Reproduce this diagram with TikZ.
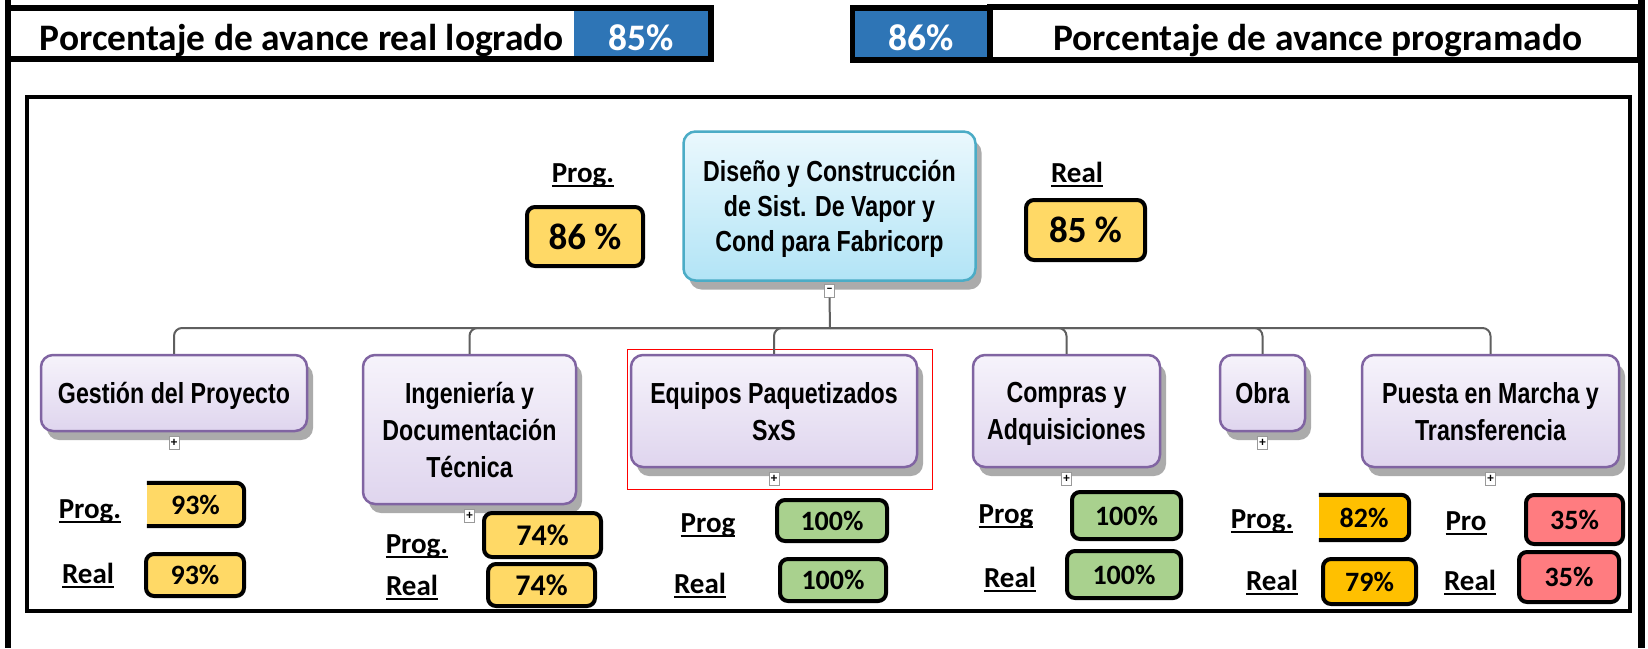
\documentclass[tikz,border=0pt]{standalone}
\usepackage{fontspec}
\setmainfont{Carlito}
\newfontfamily\narrowfont{Liberation Sans}[FakeStretch=0.8]
\usetikzlibrary{shadows}
\definecolor{pyellow}{HTML}{FFD966}
\definecolor{pgreen}{HTML}{A9D18E}
\definecolor{porange}{HTML}{FFC000}
\definecolor{psalmon}{HTML}{FF7C80}
\definecolor{hblue}{HTML}{2E75B6}
\definecolor{wbsborder}{HTML}{8064A2}
\definecolor{wbstop}{HTML}{F6F3FB}
\definecolor{wbsbot}{HTML}{DFD5EE}
\definecolor{rootborder}{HTML}{4BACC6}
\definecolor{roottop}{HTML}{EAF8FD}
\definecolor{rootbot}{HTML}{B2E4F6}
\definecolor{conncol}{HTML}{5F5F5F}
\newcommand\myul[1]{\setbox0\hbox{#1}\rlap{\vrule height -2.5pt depth 5pt width \wd0}\box0}
\tikzset{
  hdrtext/.style={font=\fontsize{37.4}{38}\selectfont\bfseries, inner sep=0pt, anchor=base},
  lbl/.style={font=\fontsize{29}{29}\selectfont\bfseries, inner sep=0pt, anchor=base},
  pbox/.style={draw=black, line width=4pt, rounded corners=8pt, inner sep=0pt,
    font=\fontsize{28}{28}\selectfont\bfseries},
  pfill/.style={draw=none, rounded corners=8pt, inner sep=0pt,
    font=\fontsize{28}{28}\selectfont\bfseries},
  openborder/.style={draw=black, line width=4pt, rounded corners=8pt},
  bigbox/.style={pbox, font=\fontsize{37}{37}\selectfont\bfseries},
  wbs/.style={draw=wbsborder, line width=2.5pt, rounded corners=12pt,
    top color=wbstop, bottom color=wbsbot, align=center, inner sep=0pt,
    text depth=-4pt,
    font=\narrowfont\bfseries\fontsize{29}{37}\selectfont,
    drop shadow={shadow xshift=6pt, shadow yshift=-9pt, opacity=1, fill=black!33}},
  rootbox/.style={wbs, draw=rootborder, top color=roottop, bottom color=rootbot,
    font=\narrowfont\bfseries\fontsize{29}{35}\selectfont},
  expander/.style={draw=black!40, fill=white, line width=0.8pt, minimum width=10pt,
    minimum height=13pt, inner sep=0pt, font=\fontsize{13}{13}\selectfont\bfseries},
  conn/.style={draw=conncol, line width=2pt},
  hdrline/.style={line width=5.5pt, draw=black},
}
\begin{document}
\begin{tikzpicture}[x=1pt,y=-1pt]
\useasboundingbox (0,0) rectangle (1648,648);
\fill[white] (0,0) rectangle (1648,648);

% header
\draw[hdrline, fill=white] (7.5,8) rectangle (711,59);
\fill[hblue] (574,10.75) rectangle (708.25,56.25);
\draw[hdrline, fill=hblue] (852.5,8) rectangle (990,60);
\draw[hdrline, fill=white] (990,7) rectangle (1640,60);
\draw[line width=6pt] (7.5,0) -- (7.5,648);
\draw[line width=7pt] (1641,0) -- (1641,648);
\node[hdrtext] (hl) at (302,50) {Porcentaje de avance real logrado};
\node[hdrtext, text=white] (hlv) at (641,50) {85\%};
\node[hdrtext, text=white] (hrv) at (921,50) {86\%};
\node[hdrtext] (hr) at (1318,50) {Porcentaje de avance programado};

% inner frame
\draw[line width=3.5pt] (27,97) rectangle (1630,611);

% root
\node[rootbox, minimum width=292, minimum height=149] (root) at (829.5,206)
  {Diseño y Construcción\\de Sist. De Vapor y\\Cond para Fabricorp};
\node[expander] (rootexp) at ([yshift=-9pt]root.south) {–};
\node[lbl] (tprogl) at (583,182) {\myul{Prog.}};
\node[bigbox, fill=pyellow, minimum width=116, minimum height=59] (tprog) at (585,236.5) {86 \%};
\node[lbl] (treall) at (1077,182) {\myul{Real}};
\node[bigbox, fill=pyellow, minimum width=119, minimum height=60] (treal) at (1085.5,230) {85 \%};

% children
\node[wbs, minimum width=266, minimum height=76] (gestion) at (174,393) {Gestión del Proyecto};
\node[wbs, minimum width=213, minimum height=149] (ingenieria) at (469.5,429.5) {Ingeniería y\\Documentación\\Técnica};
\node[wbs, minimum width=286, minimum height=112] (equipos) at (774,411) {Equipos Paquetizados\\SxS};
\node[wbs, minimum width=187, minimum height=112] (compras) at (1066.5,411) {Compras y\\Adquisiciones};
\node[wbs, minimum width=85, minimum height=76] (obra) at (1262.5,393) {Obra};
\node[wbs, minimum width=257, minimum height=112] (puesta) at (1490.5,411) {Puesta en Marcha y\\Transferencia};

\draw[red, line width=1pt] (627,349) rectangle (932,489);

% connectors
\coordinate (bar) at (830,328);
\draw[conn] (rootexp.south) -- (bar);
\foreach \c in {gestion,ingenieria,equipos,compras,obra,puesta}{
  \draw[conn, rounded corners=8pt] (bar) -| (\c.north);
  \node[expander] (\c exp) at ([yshift=-11pt]\c.south) {+};
}

% Group 1
\node[lbl] (g1pl) at (90,518) {\myul{Prog.}};
\node[pfill, fill=pyellow, minimum width=97, minimum height=43] (g1p) at (195.5,504.5) {};
\fill[pyellow] (g1p.north west) rectangle (g1p.south);
\draw[openborder] (g1p.north west) -- (g1p.north east) -- (g1p.south east) -- (g1p.south west);
\node[font=\fontsize{28}{28}\selectfont\bfseries, inner sep=0pt] at (g1p.center) {93\%};
\node[lbl] (g1rl) at (88,583) {\myul{Real}};
\node[pbox, fill=pyellow, minimum width=98, minimum height=42] (g1r) at (195,575) {93\%};

% Group 2
\node[lbl] (g2pl) at (417,553) {\myul{Prog.}};
\node[pbox, fill=pyellow, minimum width=117, minimum height=44, font=\fontsize{30}{30}\selectfont\bfseries] (g2p) at (542.5,535) {74\%};
\node[lbl] (g2rl) at (412,595) {\myul{Real}};
\node[pbox, fill=pyellow, minimum width=107, minimum height=42, font=\fontsize{30}{30}\selectfont\bfseries] (g2r) at (541.5,585) {74\%};

% Group 3
\node[lbl] (g3pl) at (708,532) {\myul{Prog}};
\node[pbox, fill=pgreen, minimum width=110, minimum height=41] (g3p) at (832,520.5) {100\%};
\node[lbl] (g3rl) at (700,593) {\myul{Real}};
\node[pbox, fill=pgreen, minimum width=106, minimum height=42] (g3r) at (833,580) {100\%};

% Group 4
\node[lbl] (g4pl) at (1006,523) {\myul{Prog}};
\node[pbox, fill=pgreen, minimum width=109, minimum height=47] (g4p) at (1126.5,515.5) {100\%};
\node[lbl] (g4rl) at (1010,587) {\myul{Real}};
\node[pbox, fill=pgreen, minimum width=114, minimum height=47] (g4r) at (1124,574.5) {100\%};

% Group 5
\node[lbl] (g5pl) at (1262,528) {\myul{Prog.}};
\node[pfill, fill=porange, minimum width=90, minimum height=45] (g5p) at (1364,517.5) {};
\fill[porange] (g5p.north west) rectangle (g5p.south);
\draw[openborder] (g5p.north west) -- (g5p.north east) -- (g5p.south east) -- (g5p.south west);
\node[font=\fontsize{28}{28}\selectfont\bfseries, inner sep=0pt] at (g5p.center) {82\%};
\node[lbl] (g5rl) at (1272,590) {\myul{Real}};
\node[pbox, fill=porange, minimum width=93, minimum height=45] (g5r) at (1369.5,581.5) {79\%};

% Group 6
\node[lbl] (g6pl) at (1466,530) {\myul{Pro}};
\node[pbox, fill=psalmon, minimum width=97, minimum height=49] (g6p) at (1574.5,519.5) {35\%};
\node[lbl] (g6rl) at (1470,590) {\myul{Real}};
\node[pbox, fill=psalmon, minimum width=100, minimum height=50] (g6r) at (1569,577) {35\%};
\end{tikzpicture}
\end{document}
